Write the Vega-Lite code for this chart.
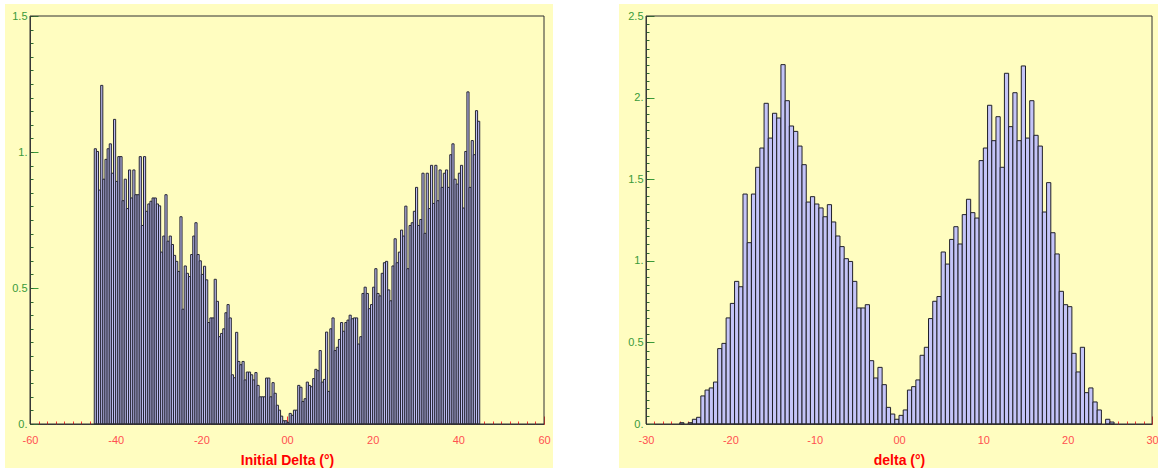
{
  "$schema": "https://vega.github.io/schema/vega-lite/v6.json",
  "padding": {"left": 5, "top": 4, "right": 0, "bottom": 1},
  "background": "white",
  "spacing": 66,
  "config": {
    "view": {"fill": "#FFFDC0", "stroke": null},
    "font": "Liberation Sans",
    "axis": {"grid": false, "zindex": 1, "labelFlush": false, "labelOverlap": false}
  },
  "datasets": {
    "L": [
      {"x": -44.75, "v": 1.012}, {"x": -44.25, "v": 1.002}, {"x": -43.75, "v": 0.86}, {"x": -43.25, "v": 1.245}, {"x": -42.75, "v": 0.9},
      {"x": -42.25, "v": 0.973}, {"x": -41.75, "v": 1.012}, {"x": -41.25, "v": 1.03}, {"x": -40.75, "v": 0.922}, {"x": -40.25, "v": 1.12},
      {"x": -39.75, "v": 0.892}, {"x": -39.25, "v": 0.983}, {"x": -38.75, "v": 0.983}, {"x": -38.25, "v": 0.821}, {"x": -37.75, "v": 0.9},
      {"x": -37.25, "v": 0.792}, {"x": -36.75, "v": 0.934}, {"x": -36.25, "v": 0.831}, {"x": -35.75, "v": 0.934}, {"x": -35.25, "v": 0.843},
      {"x": -34.75, "v": 0.843}, {"x": -34.25, "v": 0.983}, {"x": -33.75, "v": 0.73}, {"x": -33.25, "v": 0.983}, {"x": -32.75, "v": 0.782},
      {"x": -32.25, "v": 0.809}, {"x": -31.75, "v": 0.819}, {"x": -31.25, "v": 0.831}, {"x": -30.75, "v": 0.831}, {"x": -30.25, "v": 0.809},
      {"x": -29.75, "v": 0.802}, {"x": -29.25, "v": 0.632}, {"x": -28.75, "v": 0.691}, {"x": -28.25, "v": 0.843}, {"x": -27.75, "v": 0.672},
      {"x": -27.25, "v": 0.691}, {"x": -26.75, "v": 0.66}, {"x": -26.25, "v": 0.62}, {"x": -25.75, "v": 0.598}, {"x": -25.25, "v": 0.561},
      {"x": -24.75, "v": 0.762}, {"x": -24.25, "v": 0.422}, {"x": -23.75, "v": 0.581}, {"x": -23.25, "v": 0.554}, {"x": -22.75, "v": 0.542},
      {"x": -22.25, "v": 0.623}, {"x": -21.75, "v": 0.691}, {"x": -21.25, "v": 0.74}, {"x": -20.75, "v": 0.623}, {"x": -20.25, "v": 0.6},
      {"x": -19.75, "v": 0.55}, {"x": -19.25, "v": 0.58}, {"x": -18.75, "v": 0.53}, {"x": -18.25, "v": 0.373}, {"x": -17.75, "v": 0.39},
      {"x": -17.25, "v": 0.39}, {"x": -16.75, "v": 0.532}, {"x": -16.25, "v": 0.451}, {"x": -15.75, "v": 0.321}, {"x": -15.25, "v": 0.333},
      {"x": -14.75, "v": 0.35}, {"x": -14.25, "v": 0.409}, {"x": -13.75, "v": 0.439}, {"x": -13.25, "v": 0.39}, {"x": -12.75, "v": 0.181},
      {"x": -12.25, "v": 0.17}, {"x": -11.75, "v": 0.337}, {"x": -11.25, "v": 0.23}, {"x": -10.75, "v": 0.218}, {"x": -10.25, "v": 0.23},
      {"x": -9.75, "v": 0.162}, {"x": -9.25, "v": 0.191}, {"x": -8.75, "v": 0.191}, {"x": -8.25, "v": 0.181}, {"x": -7.75, "v": 0.162},
      {"x": -7.25, "v": 0.189}, {"x": -6.75, "v": 0.142}, {"x": -6.25, "v": 0.1}, {"x": -5.75, "v": 0.1}, {"x": -5.25, "v": 0.1},
      {"x": -4.75, "v": 0.169}, {"x": -4.25, "v": 0.169}, {"x": -3.75, "v": 0.1}, {"x": -3.25, "v": 0.152}, {"x": -2.75, "v": 0.113},
      {"x": -2.25, "v": 0.069}, {"x": -1.75, "v": 0.051}, {"x": -1.25, "v": 0.029}, {"x": -0.75, "v": 0.012}, {"x": -0.25, "v": 0.012},
      {"x": 0.25, "v": 0.006}, {"x": 0.75, "v": 0.039}, {"x": 1.25, "v": 0.032}, {"x": 1.75, "v": 0.051}, {"x": 2.25, "v": 0.051},
      {"x": 2.75, "v": 0.142}, {"x": 3.25, "v": 0.135}, {"x": 3.75, "v": 0.083}, {"x": 4.25, "v": 0.093}, {"x": 4.75, "v": 0.154},
      {"x": 5.25, "v": 0.142}, {"x": 5.75, "v": 0.137}, {"x": 6.25, "v": 0.167}, {"x": 6.75, "v": 0.201}, {"x": 7.25, "v": 0.196},
      {"x": 7.75, "v": 0.27}, {"x": 8.25, "v": 0.154}, {"x": 8.75, "v": 0.164}, {"x": 9.25, "v": 0.338}, {"x": 9.75, "v": 0.12},
      {"x": 10.25, "v": 0.35}, {"x": 10.75, "v": 0.39}, {"x": 11.25, "v": 0.27}, {"x": 11.75, "v": 0.282}, {"x": 12.25, "v": 0.311},
      {"x": 12.75, "v": 0.373}, {"x": 13.25, "v": 0.341}, {"x": 13.75, "v": 0.373}, {"x": 14.25, "v": 0.382}, {"x": 14.75, "v": 0.4},
      {"x": 15.25, "v": 0.387}, {"x": 15.75, "v": 0.39}, {"x": 16.25, "v": 0.39}, {"x": 16.75, "v": 0.294}, {"x": 17.25, "v": 0.321},
      {"x": 17.75, "v": 0.48}, {"x": 18.25, "v": 0.503}, {"x": 18.75, "v": 0.48}, {"x": 19.25, "v": 0.424}, {"x": 19.75, "v": 0.439},
      {"x": 20.25, "v": 0.503}, {"x": 20.75, "v": 0.571}, {"x": 21.25, "v": 0.48}, {"x": 21.75, "v": 0.471}, {"x": 22.25, "v": 0.554},
      {"x": 22.75, "v": 0.593}, {"x": 23.25, "v": 0.598}, {"x": 23.75, "v": 0.493}, {"x": 24.25, "v": 0.453}, {"x": 24.75, "v": 0.581},
      {"x": 25.25, "v": 0.681}, {"x": 25.75, "v": 0.593}, {"x": 26.25, "v": 0.632}, {"x": 26.75, "v": 0.713}, {"x": 27.25, "v": 0.691},
      {"x": 27.75, "v": 0.801}, {"x": 28.25, "v": 0.571}, {"x": 28.75, "v": 0.73}, {"x": 29.25, "v": 0.74}, {"x": 29.75, "v": 0.782},
      {"x": 30.25, "v": 0.87}, {"x": 30.75, "v": 0.73}, {"x": 31.25, "v": 0.752}, {"x": 31.75, "v": 0.922}, {"x": 32.25, "v": 0.701},
      {"x": 32.75, "v": 0.922}, {"x": 33.25, "v": 0.792}, {"x": 33.75, "v": 0.951}, {"x": 34.25, "v": 0.811}, {"x": 34.75, "v": 0.951},
      {"x": 35.25, "v": 0.821}, {"x": 35.75, "v": 0.934}, {"x": 36.25, "v": 0.87}, {"x": 36.75, "v": 0.922}, {"x": 37.25, "v": 0.934},
      {"x": 37.75, "v": 0.87}, {"x": 38.25, "v": 0.99}, {"x": 38.75, "v": 1.03}, {"x": 39.25, "v": 0.9}, {"x": 39.75, "v": 0.882},
      {"x": 40.25, "v": 0.922}, {"x": 40.75, "v": 0.951}, {"x": 41.25, "v": 0.794}, {"x": 41.75, "v": 1.002}, {"x": 42.25, "v": 1.221},
      {"x": 42.75, "v": 0.87}, {"x": 43.25, "v": 1.042}, {"x": 43.75, "v": 0.99}, {"x": 44.25, "v": 1.152}, {"x": 44.75, "v": 1.113}
    ],
    "R": [
      {"x": -25.75, "v": 0.008}, {"x": -24.75, "v": 0.008}, {"x": -24.25, "v": 0.029}, {"x": -23.75, "v": 0.041},
      {"x": -23.25, "v": 0.172}, {"x": -22.75, "v": 0.208}, {"x": -22.25, "v": 0.221}, {"x": -21.75, "v": 0.257}, {"x": -21.25, "v": 0.462},
      {"x": -20.75, "v": 0.494}, {"x": -20.25, "v": 0.65}, {"x": -19.75, "v": 0.739}, {"x": -19.25, "v": 0.874}, {"x": -18.75, "v": 0.841},
      {"x": -18.25, "v": 1.409}, {"x": -17.75, "v": 1.111}, {"x": -17.25, "v": 1.409}, {"x": -16.75, "v": 1.573}, {"x": -16.25, "v": 1.691},
      {"x": -15.75, "v": 1.965}, {"x": -15.25, "v": 1.752}, {"x": -14.75, "v": 1.904}, {"x": -14.25, "v": 1.875}, {"x": -13.75, "v": 2.202},
      {"x": -13.25, "v": 1.981}, {"x": -12.75, "v": 1.826}, {"x": -12.25, "v": 1.793}, {"x": -11.75, "v": 1.703}, {"x": -11.25, "v": 1.589},
      {"x": -10.75, "v": 1.36}, {"x": -10.25, "v": 1.393}, {"x": -9.75, "v": 1.348}, {"x": -9.25, "v": 1.324}, {"x": -8.75, "v": 1.27},
      {"x": -8.25, "v": 1.344}, {"x": -7.75, "v": 1.238}, {"x": -7.25, "v": 1.152}, {"x": -6.75, "v": 1.087}, {"x": -6.25, "v": 1.013},
      {"x": -5.75, "v": 0.996}, {"x": -5.25, "v": 0.874}, {"x": -4.75, "v": 0.711}, {"x": -4.25, "v": 0.711}, {"x": -3.75, "v": 0.731},
      {"x": -3.25, "v": 0.388}, {"x": -2.75, "v": 0.282}, {"x": -2.25, "v": 0.347}, {"x": -1.75, "v": 0.241}, {"x": -1.25, "v": 0.102},
      {"x": -0.75, "v": 0.061}, {"x": -0.25, "v": 0.029}, {"x": 0.25, "v": 0.053}, {"x": 0.75, "v": 0.086}, {"x": 1.25, "v": 0.208},
      {"x": 1.75, "v": 0.229}, {"x": 2.25, "v": 0.27}, {"x": 2.75, "v": 0.421}, {"x": 3.25, "v": 0.47}, {"x": 3.75, "v": 0.646},
      {"x": 4.25, "v": 0.752}, {"x": 4.75, "v": 0.781}, {"x": 5.25, "v": 1.054}, {"x": 5.75, "v": 0.98}, {"x": 6.25, "v": 1.131},
      {"x": 6.75, "v": 1.209}, {"x": 7.25, "v": 1.103}, {"x": 7.75, "v": 1.283}, {"x": 8.25, "v": 1.377}, {"x": 8.75, "v": 1.295},
      {"x": 9.25, "v": 1.262}, {"x": 9.75, "v": 1.614}, {"x": 10.25, "v": 1.691}, {"x": 10.75, "v": 1.953}, {"x": 11.25, "v": 1.736},
      {"x": 11.75, "v": 1.883}, {"x": 12.25, "v": 1.573}, {"x": 12.75, "v": 2.149}, {"x": 13.25, "v": 1.822}, {"x": 13.75, "v": 2.03},
      {"x": 14.25, "v": 1.736}, {"x": 14.75, "v": 2.194}, {"x": 15.25, "v": 1.752}, {"x": 15.75, "v": 1.981}, {"x": 16.25, "v": 1.769},
      {"x": 16.75, "v": 1.703}, {"x": 17.25, "v": 1.299}, {"x": 17.75, "v": 1.479}, {"x": 18.25, "v": 1.172}, {"x": 18.75, "v": 1.042},
      {"x": 19.25, "v": 0.813}, {"x": 19.75, "v": 0.731}, {"x": 20.25, "v": 0.719}, {"x": 20.75, "v": 0.433}, {"x": 21.25, "v": 0.319},
      {"x": 21.75, "v": 0.47}, {"x": 22.25, "v": 0.192}, {"x": 22.75, "v": 0.221}, {"x": 23.25, "v": 0.135}, {"x": 23.75, "v": 0.086},
      {"x": 24.75, "v": 0.029}, {"x": 25.25, "v": 0.012}
    ],
    "one": [{}]
  },
  "hconcat": [
    {
      "width": 548,
      "height": 464,
      "resolve": {"axis": {"x": "independent", "y": "independent"}},
      "layer": [
        {
          "data": {"name": "L"},
          "mark": {"type": "bar", "width": 2.14, "fill": "#BDBDF2", "stroke": "#262634", "strokeWidth": 1},
          "encoding": {
            "x": {
              "field": "x", "type": "quantitative",
              "scale": {"domain": [-60, 60], "range": [25, 539], "nice": false, "zero": false, "padding": 0},
              "axis": {
                "orient": "bottom", "offset": -44, "values": [-60, -40, -20, 0, 20, 40, 60],
                "tickSize": -8, "tickColor": "#FF3030", "domainColor": "#404040",
                "labelColor": "#FF5050", "labelFontSize": 11, "labelPadding": 18,
                "labelExpr": "datum.value == 0 ? '00' : '' + datum.value",
                "title": "Initial Delta (°)", "titleColor": "#FF0000", "titleFontSize": 14,
                "titleFontWeight": "bold", "titleY": 36, "titleBaseline": "middle"
              }
            },
            "y": {
              "field": "v", "type": "quantitative",
              "scale": {"domain": [0, 1.5], "range": [420, 12], "nice": false, "padding": 0},
              "axis": {
                "orient": "left", "offset": -25, "values": [0, 0.5, 1, 1.5],
                "tickSize": -8, "tickColor": "#3A9A3A", "domainColor": "#404040",
                "labelColor": "#3A9A3A", "labelFontSize": 11, "labelPadding": 11,
                "labelExpr": "datum.value % 1 == 0 ? datum.value + '.' : '' + datum.value",
                "title": null
              }
            }
          }
        },
        {
          "data": {"name": "one"},
          "mark": {"type": "rect", "fill": null, "stroke": "#303030", "strokeWidth": 1},
          "encoding": {
            "x": {"datum": -60, "type": "quantitative",
              "axis": {"orient": "bottom", "offset": -44, "tickCount": 60, "tickSize": -3, "tickColor": "#FF3030",
                       "labels": false, "domain": false, "title": null}},
            "x2": {"datum": 60},
            "y": {"datum": 0, "type": "quantitative",
              "axis": {"orient": "left", "offset": -25, "tickCount": 30, "tickSize": -3, "tickColor": "#2E6B2E",
                       "labels": false, "domain": false, "title": null}},
            "y2": {"datum": 1.5}
          }
        }
      ]
    },
    {
      "width": 539,
      "height": 464,
      "resolve": {"axis": {"x": "independent", "y": "independent"}},
      "layer": [
        {
          "data": {"name": "R"},
          "mark": {"type": "bar", "width": 4.22, "fill": "#C4C4F8", "stroke": "#202028", "strokeWidth": 1},
          "encoding": {
            "x": {
              "field": "x", "type": "quantitative",
              "scale": {"domain": [-30, 30], "range": [27, 533], "nice": false, "zero": false, "padding": 0},
              "axis": {
                "orient": "bottom", "offset": -44, "values": [-30, -20, -10, 0, 10, 20, 30],
                "tickSize": -8, "tickColor": "#FF3030", "domainColor": "#404040",
                "labelColor": "#FF5050", "labelFontSize": 11, "labelPadding": 18,
                "labelExpr": "datum.value == 0 ? '00' : '' + datum.value",
                "title": "delta (°)", "titleColor": "#FF0000", "titleFontSize": 14,
                "titleFontWeight": "bold", "titleY": 36, "titleBaseline": "middle"
              }
            },
            "y": {
              "field": "v", "type": "quantitative",
              "scale": {"domain": [0, 2.5], "range": [420, 12], "nice": false, "padding": 0},
              "axis": {
                "orient": "left", "offset": -27, "values": [0, 0.5, 1, 1.5, 2, 2.5],
                "tickSize": -8, "tickColor": "#3A9A3A", "domainColor": "#404040",
                "labelColor": "#3A9A3A", "labelFontSize": 11, "labelPadding": 11,
                "labelExpr": "datum.value % 1 == 0 ? datum.value + '.' : '' + datum.value",
                "title": null
              }
            }
          }
        },
        {
          "data": {"name": "one"},
          "mark": {"type": "rect", "fill": null, "stroke": "#303030", "strokeWidth": 1},
          "encoding": {
            "x": {"datum": -30, "type": "quantitative",
              "axis": {"orient": "bottom", "offset": -44, "tickCount": 60, "tickSize": -3, "tickColor": "#FF3030",
                       "labels": false, "domain": false, "title": null}},
            "x2": {"datum": 30},
            "y": {"datum": 0, "type": "quantitative",
              "axis": {"orient": "left", "offset": -27, "tickCount": 50, "tickSize": -3, "tickColor": "#2E6B2E",
                       "labels": false, "domain": false, "title": null}},
            "y2": {"datum": 2.5}
          }
        }
      ]
    }
  ]
}
